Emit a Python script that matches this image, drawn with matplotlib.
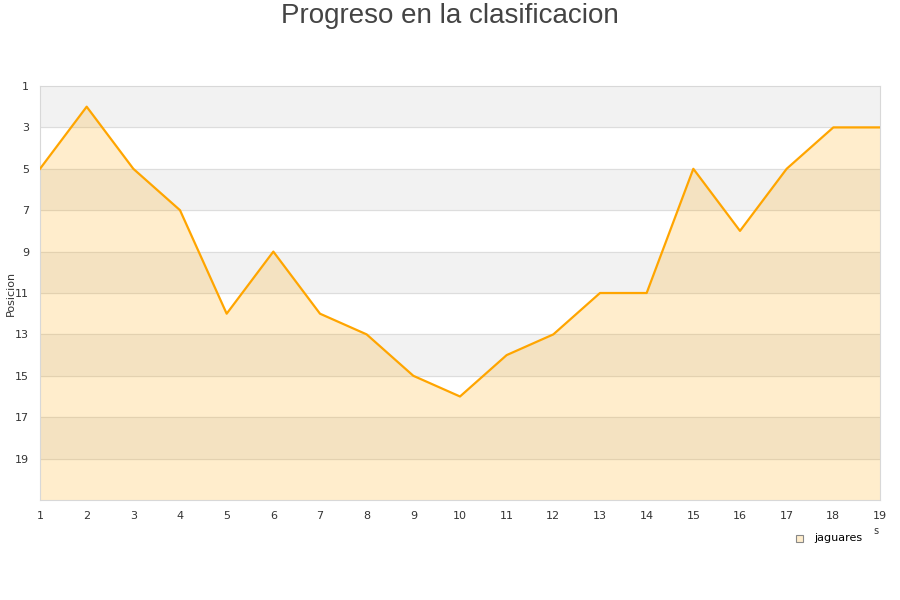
import matplotlib.pyplot as plt
import numpy as np

jornadas = list(range(1, 20))
posiciones = [5, 2, 5, 7, 12, 9, 12, 13, 15, 16, 14, 13, 11, 11, 5, 8, 5, 3, 3]
y_ticks = [1, 3, 5, 7, 9, 11, 13, 15, 17, 19]
equipo = 'jaguares'


def main():
    fig = plt.figure(figsize=(9, 6), dpi=100)
    ax = fig.add_axes([40 / 900, 100 / 600, 840 / 900, 414 / 600])

    # bandas alternas gris / blanco
    for lo in range(1, 21, 4):
        ax.axhspan(lo, lo + 2, color='#f2f2f2', zorder=0)
    for yv in y_ticks[1:]:
        ax.axhline(yv, color='#dddddd', lw=0.8, zorder=1)

    ax.fill_between(jornadas, posiciones, 21, color='#FFA500', alpha=0.2,
                    lw=0, zorder=2)
    ax.plot(jornadas, posiciones, color='#FFA500', lw=1.6, zorder=3)

    ax.set_xlim(1, 19)
    ax.set_ylim(21, 1)
    ax.set_xticks(jornadas)
    ax.set_yticks(y_ticks)
    ax.tick_params(length=0, labelsize=8, colors='#333333', pad=8)
    for s in ax.spines.values():
        s.set_color('#d8d8d8')
    fig.text(11 / 900, 1 - 293 / 600, 'Posicion', fontsize=8, color='#333333',
             rotation=90, ha='center', va='center')

    fig.text(0.5, 1 - 16 / 600, 'Progreso en la clasificacion', ha='center',
             va='center', fontsize=20, color='#444444', family='Liberation Sans')

    fig.patches.append(plt.Rectangle((796 / 900, 1 - 542 / 600), 7 / 900, 7 / 600,
                                     transform=fig.transFigure, facecolor='#FFEDCC',
                                     edgecolor='#888888', lw=0.8))
    fig.text(814 / 900, 1 - 538 / 600, equipo, fontsize=8, va='center',
             color='#000000')
    fig.text(873 / 900, 1 - 531 / 600, 's', fontsize=7, va='center',
             color='#333333')

    fig.savefig('out.png')


if __name__ == '__main__':
    main()
